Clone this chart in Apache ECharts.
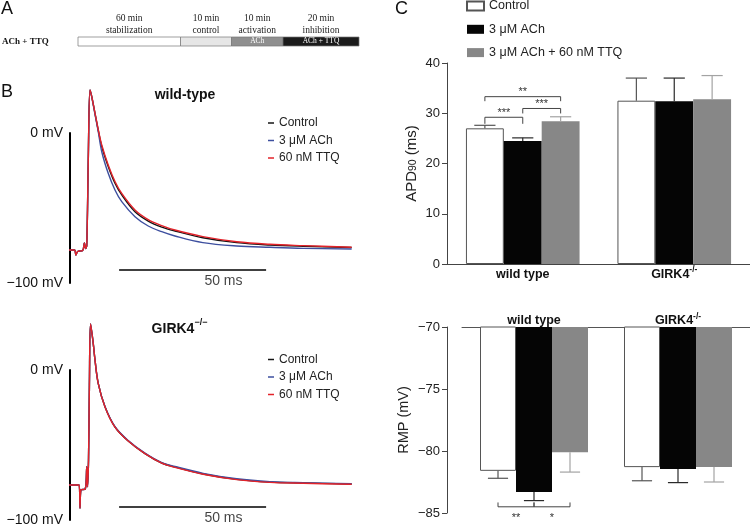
<!DOCTYPE html>
<html>
<head>
<meta charset="utf-8">
<script src="https://cdn.jsdelivr.net/npm/echarts@6/dist/echarts.min.js"></script>
<style>
html,body{margin:0;padding:0;background:#fff;}
#c1,#c2{position:absolute;left:0;top:0;width:750px;height:525px;}
</style>
</head>
<body>
<div id="c1"></div>
<div id="c2"></div>
<script>
const FONT = '"Liberation Sans", Arial, Helvetica, sans-serif';
const SERIF = '"Liberation Serif", "Times New Roman", serif';

// ---------- Panel A: protocol ----------
const protocolRow = 'ACh + TTQ';
const phaseTimes = ['60 min', '10 min', '10 min', '20 min'];
const phaseNames = ['stabilization', 'control', 'activation', 'inhibition'];
const phaseDrugs = ['', '', 'ACh', 'ACh + TTQ'];

// ---------- Panel B: action potentials (time ms, voltage mV) ----------
const traceNames = ['Control', '3 μM ACh', '60 nM TTQ'];
const wtTime    = [-2.8, 1.5, 2.0, 2.6, 4.3, 4.9, 5.3, 5.7, 6.2, 6.8, 7.4, 8.5, 9.6, 10.8, 13.0, 15.3, 17.6, 22.1, 26.6, 31.2, 35.7, 45.2, 56.7, 68.0, 79.3, 95.8];
const wtControl = [-78, -78, -81.3, -79, -78.3, -73.3, -77, -75, -20, 28.7, 24.2, 13.1, 2.0, -9.0, -22.3, -33.5, -41.3, -52.5, -58.7, -62.7, -65.3, -69.8, -73.1, -74.7, -75.5, -76.3];
const wtACh     = [-78, -78, -81.3, -79, -78.3, -73.3, -77, -75, -20, 28.7, 24.0, 12.5, 1.0, -12.5, -26.9, -38.0, -45.8, -55.8, -62.0, -65.8, -68.7, -73.1, -75.3, -76.2, -76.9, -77.3];
const wtTTQ     = [-78, -78, -81.3, -79, -78.3, -73.3, -77, -75, -20, 28.7, 24.2, 13.3, 2.3, -8.0, -21.3, -32.3, -40.3, -51.3, -57.7, -61.7, -64.7, -69.1, -72.5, -74.2, -75.1, -76.2];

const giTime    = [-3.06, 3.1, 3.4, 3.7, 5.2, 5.7, 5.95, 6.3, 6.6, 7.0, 7.9, 8.5, 9.6, 11.9, 15.3, 19.8, 25.5, 31.2, 35.7, 45.3, 56.7, 68.0, 79.4, 95.8];
const giControl = [-76.7, -76.7, -92.2, -80.0, -79.3, -64.5, -77.8, -60, -10, 30.7, 17.8, 6.7, -8.9, -24.5, -38.0, -47.3, -55.7, -62.0, -64.7, -69.3, -72.9, -74.7, -75.3, -76.0];
const giACh     = [-76.7, -76.7, -92.2, -80.0, -79.3, -64.5, -77.8, -60, -10, 30.7, 17.8, 6.7, -8.9, -24.4, -37.8, -47.0, -55.4, -61.7, -64.3, -68.9, -72.5, -74.4, -75.1, -75.8];
const giTTQ     = [-76.7, -76.7, -92.2, -80.0, -79.3, -64.5, -77.8, -60, -10, 30.7, 17.8, 6.7, -8.9, -24.6, -38.1, -47.4, -55.8, -62.1, -64.9, -69.5, -73.1, -74.9, -75.5, -76.2];

const scaleBarMs = 50;
const scaleBarStartMs = 16.7;
const scaleBarLevel = -91.3;
const scaleBarText = '50 ms';
const voltTickLabels = {'0': '0 mV', '-100': '\u2212100 mV'};

// ---------- Panel C: bar data ----------
const genotypes = ['wild type', 'GIRK4-/-'];
const conditions = ['Control', '3 μM ACh', '3 μM ACh + 60 nM TTQ'];
const apdControl = [27.0, 32.5];
const apdACh     = [24.5, 32.4];
const apdTTQ     = [28.4, 32.8];
const apdErrControl = [0.6, 4.5];
const apdErrACh     = [0.6, 4.6];
const apdErrTTQ     = [0.9, 4.7];
const rmpControl = [-81.6, -81.3];
const rmpACh     = [-83.3, -81.45];
const rmpTTQ     = [-80.1, -81.3];
const rmpErrControl = [0.6, 1.1];
const rmpErrACh     = [0.7, 1.1];
const rmpErrTTQ     = [1.6, 1.2];
// significance: [category, fromCondition, toCondition, bracket level, tick end]
const apdSig = [[0, 0, 2, 33.3, 32.4], [0, 0, 1, 29.2, 27.9], [0, 1, 2, 30.95, 29.96]];
const apdSigLabels = ['**', '***', '***'];
const rmpSig = [[0, 0, 1, -84.5, -84.15], [0, 1, 2, -84.5, -84.15]];
const rmpSigLabels = ['**', '*'];

// ================= Chart 1: panels A and B =================
const traceColors = ['#141414', '#3d4f9f', '#e3232a'];
function trace(name, color, time, volts, gi) {
  return {
    type: 'line', name: name, xAxisIndex: gi, yAxisIndex: gi,
    data: time.map((t, i) => [t, volts[i]]),
    symbol: 'none', clip: false, smooth: 0.35,
    color: color, lineStyle: { color: color, width: 1.4 }, z: 3
  };
}
function scaleBar(gi) {
  return [{
    type: 'line', xAxisIndex: gi, yAxisIndex: gi, symbol: 'none', clip: false,
    data: [[scaleBarStartMs, scaleBarLevel], [scaleBarStartMs + scaleBarMs, scaleBarLevel]],
    lineStyle: { color: '#000', width: 1.6 }, color: '#000', silent: true
  }, {
    type: 'scatter', xAxisIndex: gi, yAxisIndex: gi, symbolSize: 0, clip: false,
    data: [[scaleBarStartMs + scaleBarMs * 0.71, scaleBarLevel]],
    label: { show: true, position: 'bottom', distance: 4, formatter: scaleBarText, fontSize: 14, color: '#111', fontFamily: FONT },
    silent: true
  }];
}
function voltAxis(gi) {
  return {
    gridIndex: gi, type: 'value', min: -100, max: 0, interval: 100,
    axisLine: { show: true, onZero: false, lineStyle: { color: '#000', width: 2 } },
    axisTick: { show: false }, splitLine: { show: false },
    axisLabel: { formatter: v => voltTickLabels[String(v)], fontSize: 14, color: '#111', margin: 7, fontFamily: FONT }
  };
}
function traceLegend(top) {
  return {
    data: traceNames, orient: 'vertical', left: 268, top: top, icon: 'rect',
    itemWidth: 6, itemHeight: 1.5, itemGap: 3.5, padding: 0, selectedMode: false,
    textStyle: { fontSize: 12, lineHeight: 14, color: '#222', fontFamily: FONT }
  };
}

const graphicA = [];
const segX = [78, 180.5, 231.5, 283, 359];
const segFill = ['#ffffff', '#e6e6e6', '#8f8f8f', '#1b1b1b'];
graphicA.push({ type: 'text', x: 2, y: 41.5, style: { text: protocolRow, font: 'bold 9px ' + SERIF, fill: '#111', verticalAlign: 'middle' } });
for (let i = 0; i < 4; i++) {
  const cx = (segX[i] + segX[i + 1]) / 2;
  graphicA.push({ type: 'rect', shape: { x: segX[i], y: 37, width: segX[i + 1] - segX[i], height: 9 }, style: { fill: segFill[i], stroke: '#777', lineWidth: 0.7 } });
  graphicA.push({ type: 'text', x: cx, y: 18.5, style: { text: phaseTimes[i], font: '9.5px ' + SERIF, fill: '#222', align: 'center', verticalAlign: 'middle' } });
  graphicA.push({ type: 'text', x: cx, y: 30, style: { text: phaseNames[i], font: '9.5px ' + SERIF, fill: '#222', align: 'center', verticalAlign: 'middle' } });
  if (phaseDrugs[i]) {
    graphicA.push({ type: 'text', x: cx, y: 41.5, style: { text: phaseDrugs[i], font: '7.5px ' + SERIF, fill: '#fff', align: 'center', verticalAlign: 'middle' } });
  }
}
graphicA.push({ type: 'text', x: 1, y: 0, style: { text: 'A', font: '18px ' + FONT, fill: '#111', verticalAlign: 'top' } });
graphicA.push({ type: 'text', x: 1, y: 83.5, style: { text: 'B', font: '18px ' + FONT, fill: '#111', verticalAlign: 'top' } });
graphicA.push({ type: 'text', x: 185, y: 95.5, style: { text: 'wild-type', font: 'bold 14px ' + FONT, fill: '#111', align: 'center', verticalAlign: 'middle' } });
graphicA.push({ type: 'text', x: 179.5, y: 329, style: {
  text: '{a|GIRK4}{s|\u2212/\u2212}', align: 'center', verticalAlign: 'middle',
  rich: { a: { fontSize: 14, fontWeight: 'bold', fontFamily: FONT, fill: '#111', lineHeight: 22 },
          s: { fontSize: 9, fontWeight: 'bold', fontFamily: FONT, fill: '#111', lineHeight: 9, verticalAlign: 'top' } }
} });

const chart1 = echarts.init(document.getElementById('c1'), null, { renderer: 'canvas' });
chart1.setOption({
  animation: false,
  backgroundColor: '#fff',
  textStyle: { fontFamily: FONT },
  grid: [
    { left: 70, top: 133, width: 294, height: 150, outerBoundsMode: 'none' },
    { left: 70, top: 370, width: 294, height: 150, outerBoundsMode: 'none' }
  ],
  xAxis: [
    { gridIndex: 0, type: 'value', min: 0, max: 100, show: false },
    { gridIndex: 1, type: 'value', min: 0, max: 100, show: false }
  ],
  yAxis: [voltAxis(0), voltAxis(1)],
  legend: [traceLegend(116), traceLegend(352.5)],
  graphic: graphicA,
  series: [
    trace(traceNames[0], traceColors[0], wtTime, wtControl, 0),
    trace(traceNames[1], traceColors[1], wtTime, wtACh, 0),
    trace(traceNames[2], traceColors[2], wtTime, wtTTQ, 0),
    trace(traceNames[0], traceColors[0], giTime, giControl, 1),
    trace(traceNames[1], traceColors[1], giTime, giACh, 1),
    trace(traceNames[2], traceColors[2], giTime, giTTQ, 1)
  ].concat(scaleBar(0), scaleBar(1))
});

// ================= Chart 2: panel C =================
const barColors = ['#ffffff', '#050505', '#878787'];
const errColors = ['#555555', '#2a2a2a', '#a3a3a3'];
const BAND_FILL = 0.75;

function errRender(params, api) {
  const cat = api.value(0), s = api.value(1), m = api.value(2), e = api.value(3);
  const band = api.size([1, 0])[0];
  const bw = band * BAND_FILL / 3;
  const end = m + (m >= 0 ? e : -e);
  const p0 = api.coord([cat, m]);
  const p1 = api.coord([cat, end]);
  const x = p0[0] + (s - 1) * bw;
  const half = bw * 0.28;
  const st = { stroke: errColors[s], lineWidth: 1.2 };
  return { type: 'group', children: [
    { type: 'line', shape: { x1: x, y1: p0[1], x2: x, y2: p1[1] }, style: st },
    { type: 'line', shape: { x1: x - half, y1: p1[1], x2: x + half, y2: p1[1] }, style: st }
  ] };
}
function sigRender(labels) {
  return function (params, api) {
    const cat = api.value(0), a = api.value(1), b = api.value(2), lv = api.value(3), tk = api.value(4);
    const band = api.size([1, 0])[0];
    const bw = band * BAND_FILL / 3;
    const c = api.coord([cat, lv]);
    const yT = api.coord([cat, tk])[1];
    const x1 = c[0] + (a - 1) * bw, x2 = c[0] + (b - 1) * bw, yL = c[1];
    const down = yT > yL;
    return { type: 'group', children: [
      { type: 'polyline', shape: { points: [[x1, yT], [x1, yL], [x2, yL], [x2, yT]] }, style: { stroke: '#444', lineWidth: 1, fill: 'none' } },
      { type: 'text', style: { text: labels[params.dataIndex], x: (x1 + x2) / 2, y: down ? yL - 4.5 : yL + 11.5,
        align: 'center', verticalAlign: 'middle', fontSize: 11, fontFamily: FONT, fill: '#333' } }
    ] };
  };
}
function errData(means, errs) {
  const rows = [];
  for (let s = 0; s < 3; s++) for (let c = 0; c < genotypes.length; c++) rows.push([c, s, means[s][c], errs[s][c]]);
  return rows;
}
function bars(gi, means) {
  return conditions.map((name, s) => ({
    type: 'bar', name: name, xAxisIndex: gi, yAxisIndex: gi, data: means[s],
    barGap: '0%', barCategoryGap: '25%', clip: true,
    itemStyle: { color: barColors[s], borderColor: s === 0 ? '#555' : barColors[s], borderWidth: s === 0 ? 1 : 0 },
    z: 2
  }));
}
function genoLabel(lh) {
  return {
    formatter: v => v === 'GIRK4-/-' ? '{b|GIRK4}{s|-/-}' : '{b|' + v + '}',
    rich: {
      b: { fontSize: 12.5, fontWeight: 'bold', color: '#111', fontFamily: FONT, lineHeight: lh },
      s: { fontSize: 8.5, fontWeight: 'bold', color: '#111', fontFamily: FONT, lineHeight: 9, verticalAlign: 'top' }
    }
  };
}
const minusFmt = v => String(v).replace('-', '\u2212');

const apdMeans = [apdControl, apdACh, apdTTQ];
const apdErrs = [apdErrControl, apdErrACh, apdErrTTQ];
const rmpMeans = [rmpControl, rmpACh, rmpTTQ];
const rmpErrs = [rmpErrControl, rmpErrACh, rmpErrTTQ];

const chart2 = echarts.init(document.getElementById('c2'), null, { renderer: 'canvas' });
chart2.setOption({
  animation: false,
  textStyle: { fontFamily: FONT },
  grid: [
    { left: 447, top: 63, width: 303, height: 201, outerBoundsMode: 'none' },
    { left: 462, top: 327, width: 288, height: 186, outerBoundsMode: 'none' }
  ],
  xAxis: [
    Object.assign({ gridIndex: 0, type: 'category', data: genotypes,
      axisLine: { onZero: false, lineStyle: { color: '#444', width: 1 } }, axisTick: { show: false } },
      { axisLabel: Object.assign({ margin: 1 }, genoLabel(20)) }),
    Object.assign({ gridIndex: 1, type: 'category', position: 'top', data: genotypes,
      axisLine: { onZero: false, lineStyle: { color: '#555', width: 1 } }, axisTick: { show: false } },
      { axisLabel: Object.assign({ margin: -3 }, genoLabel(18)) })
  ],
  yAxis: [
    { gridIndex: 0, type: 'value', min: 0, max: 40, interval: 10,
      axisLine: { show: true, lineStyle: { color: '#444' } },
      axisTick: { show: true, length: 5, lineStyle: { color: '#444' } },
      splitLine: { show: false },
      axisLabel: { fontSize: 13, color: '#222', margin: 7 },
      name: '{a|APD}{s|90}{a| (ms)}', nameLocation: 'middle', nameGap: 28,
      nameTextStyle: { rich: {
        a: { fontSize: 15, color: '#222', fontFamily: FONT, lineHeight: 20, verticalAlign: 'bottom' },
        s: { fontSize: 10.5, color: '#222', fontFamily: FONT, lineHeight: 11, verticalAlign: 'bottom' } } } },
    { gridIndex: 1, type: 'value', min: -85, max: -70, interval: 5, offset: 15,
      axisLine: { show: true, onZero: false, lineStyle: { color: '#444' } },
      axisTick: { show: true, length: 5, lineStyle: { color: '#444' } },
      splitLine: { show: false },
      axisLabel: { fontSize: 13, color: '#222', margin: 7, formatter: minusFmt },
      name: 'RMP (mV)', nameLocation: 'middle', nameGap: 28,
      nameTextStyle: { fontSize: 14.5, color: '#222', lineHeight: 20 } }
  ],
  legend: {
    data: conditions, orient: 'vertical', left: 466, top: -1, icon: 'rect',
    itemWidth: 17, itemHeight: 9, itemGap: 9.3, padding: 0, selectedMode: false,
    textStyle: { fontSize: 12.5, lineHeight: 14, color: '#222', fontFamily: FONT }
  },
  graphic: [{ type: 'text', x: 395, y: 0, style: { text: 'C', font: '18px ' + FONT, fill: '#111', verticalAlign: 'top' } }],
  series: [].concat(
    bars(0, apdMeans),
    bars(1, rmpMeans),
    [
      { type: 'custom', xAxisIndex: 0, yAxisIndex: 0, data: errData(apdMeans, apdErrs), encode: { x: 0, y: 2 }, renderItem: errRender, z: 5, silent: true },
      { type: 'custom', xAxisIndex: 1, yAxisIndex: 1, data: errData(rmpMeans, rmpErrs), encode: { x: 0, y: 2 }, renderItem: errRender, z: 5, silent: true },
      { type: 'custom', xAxisIndex: 0, yAxisIndex: 0, data: apdSig, encode: { x: 0, y: 3 }, renderItem: sigRender(apdSigLabels), z: 5, silent: true, clip: false },
      { type: 'custom', xAxisIndex: 1, yAxisIndex: 1, data: rmpSig, encode: { x: 0, y: 3 }, renderItem: sigRender(rmpSigLabels), z: 5, silent: true, clip: false }
    ]
  )
});
</script>
</body>
</html>
